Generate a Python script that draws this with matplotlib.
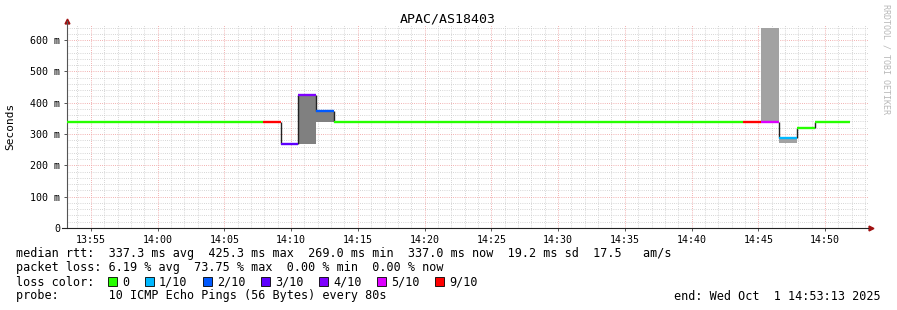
import matplotlib
matplotlib.use('agg')
import matplotlib.pyplot as plt
from matplotlib.patches import Rectangle
import numpy as np

# time axis: minutes past 13:00, graph covers 13:53:13 .. 14:53:13
start_min = 53 + 13 / 60.0
step_min = 80 / 60.0

# median rtt per 80 s step (ms) and lost pings (out of 10)
median = [337, 337, 337, 337, 337, 337, 337, 337, 337, 337, 337,
          337, 269, 425, 373,
          337, 337, 337, 337, 337, 337, 337, 337, 337, 337, 337, 337,
          337, 337, 337, 337, 337, 337, 337, 337, 337, 337, 337,
          337, 337, 287, 319, 337, 337]
loss = [0] * 11 + [9, 3, 4, 2] + [0] * 23 + [9, 5, 1, 0, 0, 0]

# smoke (spread of the pings) where visible
smoke_step = [13, 14, 39, 40]
smoke_lo = [269, 337, 337, 271]
smoke_hi = [425, 373, 640, 287]
smoke_col = ['#808080', '#808080', '#a2a2a2', '#a2a2a2']

loss_keys = [0, 1, 2, 3, 4, 5, 9]
loss_labels = ['0', '1/10', '2/10', '3/10', '4/10', '5/10', '9/10']
loss_colors = ['#26ff00', '#00b8ff', '#0059ff', '#5e00ff', '#7e00ff', '#dd00ff', '#ff0000']

xticks = [55, 60, 65, 70, 75, 80, 85, 90, 95, 100, 105, 110]
xticklabels = ['13:55', '14:00', '14:05', '14:10', '14:15', '14:20',
               '14:25', '14:30', '14:35', '14:40', '14:45', '14:50']
yticks = [0, 100, 200, 300, 400, 500, 600]
yticklabels = ['0', '100 m', '200 m', '300 m', '400 m', '500 m', '600 m']

mono = 'DejaVu Sans Mono'
W, H = 897, 310

fig = plt.figure(figsize=(W / 100, H / 100), dpi=100)
fig.patch.set_facecolor('white')
ax = fig.add_axes([67 / W, 82 / H, 801 / W, 203 / H])
ax.set_xlim(start_min, start_min + 60)
ax.set_ylim(0, 648)

# grid
dots = (0, (1, 1.6))
for m in np.arange(54, 114):
    if m % 5:
        ax.axvline(m, color='#c8c8c8', lw=0.6, ls=dots, zorder=0)
for v in np.arange(20, 648, 20):
    if v % 100:
        ax.axhline(v, color='#c8c8c8', lw=0.6, ls=dots, zorder=0)
for m in xticks:
    ax.axvline(m, color='#ee9898', lw=0.6, ls=dots, zorder=0)
for v in yticks[1:]:
    ax.axhline(v, color='#ee9898', lw=0.6, ls=dots, zorder=0)

xs = start_min + np.arange(len(median)) * step_min

# smoke
ax.bar([xs[i] for i in smoke_step], np.array(smoke_hi) - np.array(smoke_lo),
       bottom=smoke_lo, width=step_min, align='edge', color=smoke_col,
       linewidth=0, zorder=2)

# median line coloured by loss
cmap = dict(zip(loss_keys, loss_colors))
ax.hlines(median, xs, xs + step_min, colors=[cmap[l] for l in loss], lw=1.7, zorder=4)
for i in range(len(median) - 1):
    if median[i] != median[i + 1]:
        ax.vlines(xs[i + 1], median[i], median[i + 1], colors='#222222', lw=1.0, zorder=3)

for s in ['top', 'right']:
    ax.spines[s].set_visible(False)
ax.spines['left'].set_color('#555555')
ax.spines['bottom'].set_color('#222222')
ax.spines['left'].set_bounds(0, 660)
ax.spines['bottom'].set_bounds(start_min - 0.4, start_min + 60)
ax.plot([start_min], [660], marker='^', color='#a01010', ms=3.5, clip_on=False)
ax.plot([start_min + 60.25], [0], marker='>', color='#a01010', ms=3.5, clip_on=False)

ax.set_xticks(xticks)
ax.set_xticklabels(xticklabels, family=mono, fontsize=7.2)
ax.set_yticks(yticks)
ax.set_yticklabels(yticklabels, family=mono, fontsize=7.2)
ax.tick_params(length=2, width=0.7, color='#555555', pad=3)
ax.set_ylabel('Seconds', family=mono, fontsize=8)
ax.yaxis.set_label_coords(-0.064, 0.5)

fig.text(448 / W, 1 - 19 / H, 'APAC/AS18403', family=mono, fontsize=9.5,
         ha='center', va='center')
fig.text(886 / W, 1 - 4 / H, 'RRDTOOL / TOBI OETIKER', family=mono, fontsize=6,
         color='#b8b8b8', rotation=270, ha='center', va='top')

lines = [
    'median rtt:  337.3 ms avg  425.3 ms max  269.0 ms min  337.0 ms now  19.2 ms sd  17.5   am/s',
    'packet loss: 6.19 % avg  73.75 % max  0.00 % min  0.00 % now',
]
for k, t in enumerate(lines):
    fig.text(16 / W, 1 - (254 + 14 * k) / H, t, family=mono, fontsize=8.5, va='center')
fig.text(16 / W, 1 - 282 / H, 'loss color:', family=mono, fontsize=8.5, va='center')
sq_x = [108, 145, 203, 261, 319, 377, 435]
for px, lab, col in zip(sq_x, loss_labels, loss_colors):
    fig.patches.append(Rectangle((px / W, 1 - 286 / H), 9 / W, 9 / H, transform=fig.transFigure,
                                 facecolor=col, edgecolor='black', lw=0.6))
    fig.text((px + 14) / W, 1 - 282 / H, lab, family=mono, fontsize=8.5, va='center')
fig.text(16 / W, 1 - 296 / H, 'probe:       10 ICMP Echo Pings (56 Bytes) every 80s',
         family=mono, fontsize=8.5, va='center')
fig.text(881 / W, 1 - 296 / H, 'end: Wed Oct  1 14:53:13 2025', family=mono, fontsize=8.5,
         va='center', ha='right')

plt.savefig('out.png', dpi=100)
